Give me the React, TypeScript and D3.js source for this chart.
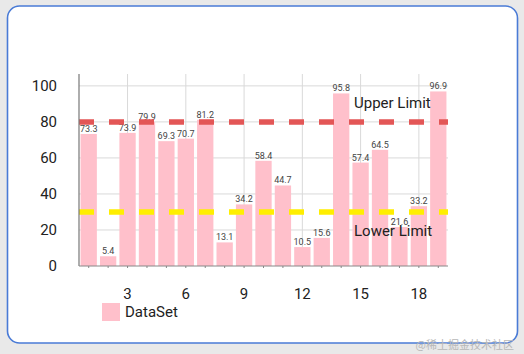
import React, { useRef, useEffect } from 'react';
import * as d3 from 'd3';

const xValues = [1, 2, 3, 4, 5, 6, 7, 8, 9, 10, 11, 12, 13, 14, 15, 16, 17, 18, 19];
const barValues = [73.3, 5.4, 73.9, 79.9, 69.3, 70.7, 81.2, 13.1, 34.2, 58.4, 44.7, 10.5, 15.6, 95.8, 57.4, 64.5, 21.6, 33.2, 96.9];
const xTicks = [3, 6, 9, 12, 15, 18];
const yTicks = [0, 20, 40, 60, 80, 100];
const upperLimit = 80;
const lowerLimit = 30;
const seriesName = 'DataSet';

function Chart() {
  const svgRef = useRef<SVGSVGElement>(null);

  useEffect(() => {
    const svg = d3.select(svgRef.current);
    svg.selectAll('*').remove();

    const width = 524;
    const height = 354;
    const plot = { left: 79, right: 448, top: 74, bottom: 266 };
    const font = 'Roboto, "Noto Sans", sans-serif';

    svg.attr('width', width).attr('height', height);

    // background + card
    svg.append('rect').attr('width', width).attr('height', height).attr('fill', '#e9e9e9');
    svg.append('rect')
      .attr('x', 7.5).attr('y', 6).attr('width', 510).attr('height', 337)
      .attr('rx', 12).attr('fill', '#ffffff')
      .attr('stroke', '#4a7bd6').attr('stroke-width', 1.6);

    const x = d3.scaleLinear().domain([0.5, 19.5]).range([plot.left, plot.right]);
    const y = d3.scaleLinear().domain([0, d3.max(barValues)! * 1.1]).range([plot.bottom, plot.top]);
    const barW = (x(2) - x(1)) * 0.84;

    // grid
    svg.append('g').selectAll('line.h')
      .data(yTicks.filter(d => d > 0))
      .enter().append('line')
      .attr('x1', plot.left).attr('x2', plot.right)
      .attr('y1', d => y(d)).attr('y2', d => y(d))
      .attr('stroke', '#d9d9d9').attr('stroke-width', 1);
    svg.append('g').selectAll('line.v')
      .data(xTicks)
      .enter().append('line')
      .attr('x1', d => x(d)).attr('x2', d => x(d))
      .attr('y1', plot.top).attr('y2', plot.bottom)
      .attr('stroke', '#d9d9d9').attr('stroke-width', 1);

    // bars
    svg.append('g').selectAll('rect')
      .data(barValues)
      .enter().append('rect')
      .attr('x', (d, i) => x(xValues[i]) - barW / 2)
      .attr('y', d => y(d))
      .attr('width', barW)
      .attr('height', d => plot.bottom - y(d))
      .attr('fill', '#ffc0cb');

    // value labels
    svg.append('g').selectAll('text')
      .data(barValues)
      .enter().append('text')
      .attr('x', (d, i) => x(xValues[i]))
      .attr('y', d => y(d) - 2)
      .attr('text-anchor', 'middle')
      .style('font-family', font)
      .style('font-size', '9px')
      .attr('fill', '#444')
      .text(d => d.toFixed(1));

    // limit lines
    const limits = [
      { v: upperLimit, color: '#e35656', label: 'Upper Limit', dy: -14 },
      { v: lowerLimit, color: '#ffee00', label: 'Lower Limit', dy: 24 }
    ];
    limits.forEach(l => {
      svg.append('line')
        .attr('x1', plot.left).attr('x2', plot.right)
        .attr('y1', y(l.v)).attr('y2', y(l.v))
        .attr('stroke', l.color).attr('stroke-width', 5.5)
        .attr('stroke-dasharray', '15,15');
      svg.append('text')
        .attr('x', 354).attr('y', y(l.v) + l.dy)
        .style('font-family', font).style('font-size', '15px')
        .attr('fill', '#222')
        .text(l.label);
    });

    // axes
    svg.append('line')
      .attr('x1', plot.left).attr('x2', plot.left)
      .attr('y1', plot.top).attr('y2', plot.bottom)
      .attr('stroke', '#777').attr('stroke-width', 1.2);
    svg.append('line')
      .attr('x1', plot.left).attr('x2', plot.right)
      .attr('y1', plot.bottom).attr('y2', plot.bottom)
      .attr('stroke', '#888').attr('stroke-width', 1);
    svg.append('g').selectAll('line')
      .data(xValues)
      .enter().append('line')
      .attr('x1', d => x(d)).attr('x2', d => x(d))
      .attr('y1', plot.bottom).attr('y2', plot.bottom + 2)
      .attr('stroke', '#888');

    svg.append('g').selectAll('text')
      .data(yTicks)
      .enter().append('text')
      .attr('x', 57).attr('y', d => y(d))
      .attr('dy', '0.35em')
      .attr('text-anchor', 'end')
      .style('font-family', font).style('font-size', '15px')
      .attr('fill', '#222')
      .text(d => d);

    svg.append('g').selectAll('text')
      .data(xTicks)
      .enter().append('text')
      .attr('x', d => x(d)).attr('y', 294)
      .attr('dy', '0.35em')
      .attr('text-anchor', 'middle')
      .style('font-family', font).style('font-size', '15px')
      .attr('fill', '#222')
      .text(d => d);

    // legend
    svg.append('rect')
      .attr('x', 102).attr('y', 303).attr('width', 18).attr('height', 18)
      .attr('fill', '#ffc0cb');
    svg.append('text')
      .attr('x', 125).attr('y', 312).attr('dy', '0.35em')
      .style('font-family', font).style('font-size', '15px')
      .attr('fill', '#222')
      .text(seriesName);

    // watermark
    svg.append('text')
      .attr('x', 514).attr('y', 349)
      .attr('text-anchor', 'end')
      .style('font-family', '"Noto Sans CJK SC", sans-serif').style('font-size', '11px')
      .attr('fill', '#b8b8b8')
      .text('@稀土掘金技术社区');
  }, []);

  return <svg ref={svgRef}></svg>;
}

export default function App() {
  return (
    <div style={{ position: 'fixed', left: 0, top: 0 }}>
      <Chart />
    </div>
  );
}
